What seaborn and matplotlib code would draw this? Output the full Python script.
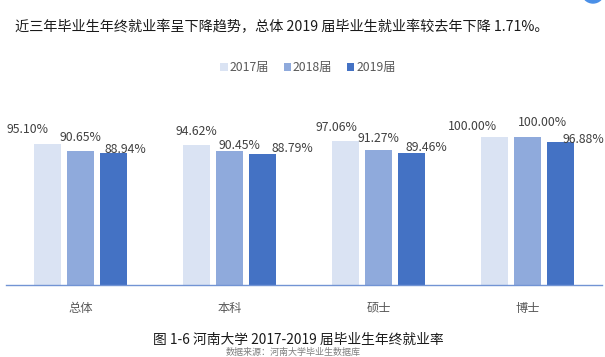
import pandas as pd
import seaborn as sns
import matplotlib.pyplot as plt
from matplotlib.patches import Ellipse

# data
categories = ['总体', '本科', '硕士', '博士']
years = ['2017届', '2018届', '2019届']
rate_2017 = [95.10, 94.62, 97.06, 100.00]
rate_2018 = [90.65, 90.45, 91.27, 100.00]
rate_2019 = [88.94, 88.79, 89.46, 96.88]

title = '近三年毕业生年终就业率呈下降趋势，总体 2019 届毕业生就业率较去年下降 1.71%。'
caption = '图 1-6 河南大学 2017-2019 届毕业生年终就业率'
source = '数据来源：河南大学毕业生数据库'

# label nudges (pixels), per year then per category
label_dx = [[-20, 0, -9, -22], [0, 10, 0, 15], [12, 30, 15, 23]]
label_dy = [[15, 13, 14, 10], [13, 6, 11, 14], [4, 5, 5, 2]]

df = pd.DataFrame({
    'cat': categories * 3,
    'year': [years[0]] * 4 + [years[1]] * 4 + [years[2]] * 4,
    'rate': rate_2017 + rate_2018 + rate_2019,
})

sns.set_style('white')
plt.rcParams['font.family'] = ['Noto Sans CJK SC', 'DejaVu Sans']

fig = plt.figure(figsize=(6.05, 3.57), dpi=100)
ax = fig.add_axes([6 / 605, 72 / 357, 596 / 605, 177.6 / 357])

palette = ['#DAE3F3', '#8FAADC', '#4472C4']
sns.barplot(data=df, x='cat', y='rate', hue='year', palette=palette, saturation=1,
            width=0.665, gap=0.21, linewidth=0, ax=ax)

ax.set_ylim(0, 120)
ax.set_xlim(-0.5, 3.5)
ax.set_xlabel('')
ax.set_ylabel('')
ax.set_yticks([])
for s in ['top', 'left', 'right']:
    ax.spines[s].set_visible(False)
ax.spines['bottom'].set_color('#7294D4')
ax.spines['bottom'].set_linewidth(1.0)

ax.set_xticks(range(4))
ax.set_xticklabels(categories, fontsize=8.8, color='#595959')
ax.tick_params(axis='x', which='major', length=0, pad=12)
ax.set_xticks([-0.5, 0.5, 1.5, 2.5, 3.5], minor=True)
ax.tick_params(axis='x', which='minor', length=3, width=0.8, color='#7294D4', direction='out')

for i, bars in enumerate(ax.containers):
    for j, bar in enumerate(bars):
        h = bar.get_height()
        ax.annotate(f'{h:.2f}%', (bar.get_x() + bar.get_width() / 2, h),
                    xytext=(label_dx[i][j], label_dy[i][j]), textcoords='offset pixels',
                    ha='center', va='center', fontsize=8.8, color='#404040')

leg = ax.legend(loc='center', bbox_to_anchor=(308 / 605, 1 - 68 / 357),
                bbox_transform=fig.transFigure, ncol=3, frameon=False,
                fontsize=8.8, handlelength=0.6, handleheight=0.6,
                handletextpad=0.15, columnspacing=1.2, borderpad=0)
for t in leg.get_texts():
    t.set_color('#595959')

fig.text(15 / 605, 1 - 27 / 357, title, fontsize=10.2, color='#1a1a1a', va='center', ha='left')
fig.text(298 / 605, 1 - 340 / 357, caption, fontsize=9.9, color='#1a1a1a', va='center',
         ha='center', fontweight='medium')
# source line sits right at the lower edge, mostly cropped in the original
fig.text(293 / 605, 0.5 / 357, source, fontsize=6.5, color='#7f7f7f', va='bottom', ha='center')

fig.patches.append(Ellipse((593, 357 + 8), 22, 22, transform=None, color='#4A8FE7', figure=fig))

fig.savefig('out.png', dpi=100)
